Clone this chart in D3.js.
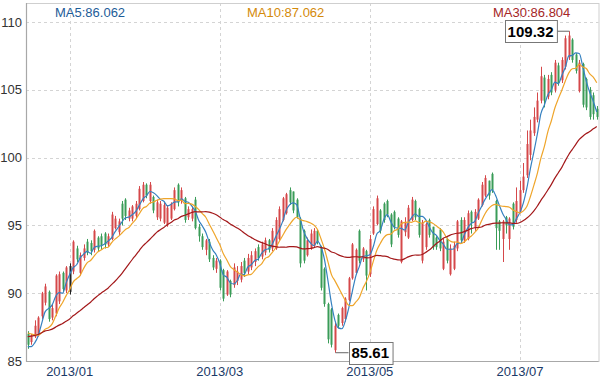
<!DOCTYPE html>
<html><head><meta charset="utf-8">
<script src="https://cdn.jsdelivr.net/npm/d3@7"></script>
<style>
body{margin:0;background:#fff}
text{font-family:"Liberation Sans",Arial,sans-serif}
</style>
</head><body>
<svg id="c" width="600" height="378"></svg>
<script>
// ---------------- data ----------------
const startDate = "2012-12-14";
const endDate = "2013-07-31";
// [open, close, low, high]
const ohlc = [
[87.0,86.2,85.9,87.2],[86.4,86.9,86.2,87.0],[86.8,87.6,86.7,88.0],[86.9,88.2,86.8,88.3],[88.3,90.0,88.1,90.1],
[89.3,90.5,89.1,90.7],[90.1,88.1,87.9,90.2],[88.2,88.9,88.0,89.2],[88.5,91.3,88.3,91.4],[89.4,91.4,89.2,91.6],
[91.5,90.3,90.1,91.6],[90.2,91.9,90.0,92.0],[90.1,92.0,89.9,92.2],[91.6,93.8,91.4,93.9],[93.3,92.5,92.3,93.5],
[91.5,92.8,91.3,93.0],[92.6,93.3,92.4,93.6],[93.8,93.0,92.8,94.0],[93.7,93.1,92.8,93.9],[93.2,94.6,93.0,94.7],
[94.1,93.3,93.1,94.2],[94.2,93.5,93.2,94.4],[94.4,93.6,93.3,94.5],[93.6,94.2,93.4,94.4],[94.0,95.8,93.9,96.0],
[94.8,95.5,94.7,95.7],[94.5,95.3,94.3,95.5],[96.6,95.5,95.0,96.8],[96.9,95.7,95.4,97.0],[95.5,96.1,95.3,96.3],
[95.5,96.4,95.3,96.5],[95.7,96.6,95.5,96.8],[96.2,97.7,96.1,97.9],[96.8,98.0,96.7,98.2],[98.0,97.2,97.0,98.1],
[96.8,98.0,96.6,98.2],[97.1,96.1,95.9,97.2],[95.6,96.7,95.4,96.9],[95.5,96.6,95.3,96.8],[95.2,96.5,95.1,96.7],
[95.0,96.3,94.9,96.5],[95.5,96.6,95.4,96.7],[96.2,97.6,96.1,97.8],[98.0,96.7,96.4,98.1],[96.8,97.6,96.6,97.8],
[97.0,95.4,95.2,97.1],[95.6,96.2,95.4,96.4],[95.5,96.2,95.3,96.4],[96.9,94.8,94.7,97.1],[94.9,94.2,93.8,95.1],
[94.2,93.4,93.2,94.4],[93.2,93.9,92.8,94.0],[93.8,92.5,92.3,94.0],[92.6,91.9,91.7,92.8],[91.8,92.4,91.5,92.6],
[92.4,90.4,90.2,92.5],[91.7,89.6,89.4,91.8],[89.9,91.6,89.8,91.7],[90.9,89.9,89.7,91.0],[90.6,91.9,90.4,92.2],
[90.9,91.6,90.6,92.0],[91.0,92.0,90.8,92.3],[92.4,91.5,91.2,92.6],[91.6,92.6,91.4,92.9],[91.9,92.8,91.7,93.1],
[92.3,93.1,92.0,93.3],[93.4,92.6,92.4,93.6],[92.7,93.6,92.5,93.8],[93.0,93.9,92.8,94.1],[93.9,93.2,93.0,94.0],
[93.3,94.6,93.1,94.8],[93.3,95.4,93.2,95.6],[94.0,96.2,93.9,96.4],[95.4,97.0,95.3,97.1],[95.9,97.3,95.8,97.4],
[97.6,96.7,96.5,97.8],[97.5,96.1,95.9,97.5],[96.9,95.6,95.5,97.0],[95.5,92.2,91.9,95.6],[94.6,92.4,92.2,94.7],
[92.8,93.9,92.7,94.1],[93.3,94.4,93.2,94.7],[93.5,94.6,93.4,94.8],[94.6,93.8,93.6,94.7],[93.4,90.4,90.2,93.5],
[91.8,89.2,89.0,91.9],[89.2,86.6,86.3,89.3],[88.8,86.2,86.0,88.9],[85.8,87.6,85.61,87.8],[88.4,87.6,87.4,88.5],
[87.8,88.9,87.6,89.0],[88.1,89.6,87.9,89.7],[89.5,91.1,89.4,91.2],[91.1,93.6,91.0,93.7],[91.5,93.2,91.4,93.3],
[94.6,92.4,92.2,94.7],[92.5,93.3,92.3,93.4],[93.1,91.3,90.2,93.2],[91.4,94.0,91.2,94.3],[94.4,96.2,94.3,96.4],
[95.1,97.0,95.0,97.2],[96.1,94.6,94.4,96.2],[96.6,95.4,95.2,96.7],[96.8,95.8,95.6,96.9],[95.8,93.6,93.4,95.9],
[96.0,94.9,94.7,96.1],[95.5,94.3,94.1,95.6],[92.3,95.3,92.2,95.4],[94.5,95.2,94.2,95.6],[94.1,96.3,94.0,96.5],
[95.4,96.9,95.3,97.1],[96.8,95.6,95.4,96.9],[96.2,94.3,94.1,96.3],[92.4,95.2,92.2,95.4],[93.4,95.1,93.2,95.2],
[95.4,94.3,94.1,95.5],[94.9,93.4,93.2,94.9],[94.1,93.4,93.2,94.2],[94.7,93.3,93.1,94.8],[91.8,93.8,91.7,94.0],
[94.0,92.4,92.2,94.1],[91.4,93.3,91.3,93.6],[91.8,93.5,91.7,93.8],[93.3,95.3,93.1,95.4],[95.4,93.9,93.7,95.6],
[93.9,95.4,93.7,95.6],[94.0,95.9,93.9,96.1],[96.0,95.2,94.4,96.1],[94.8,96.0,94.6,96.2],[95.5,96.9,95.4,97.0],
[96.5,98.0,96.4,98.2],[97.2,98.5,97.1,98.7],[98.3,97.2,96.9,98.3],[98.8,97.6,97.4,98.9],[96.8,94.8,93.2,96.9],
[95.3,94.6,93.2,95.4],[94.0,95.3,92.3,95.4],[95.6,95.0,94.4,95.7],[94.0,95.5,93.2,95.6],[96.6,94.9,94.7,96.7],
[95.4,96.8,95.2,97.8],[96.0,97.6,95.9,98.3],[97.6,98.6,97.4,99.6],[98.7,101.0,98.5,102.0],[100.2,102.0,99.8,102.8],
[101.8,103.0,101.6,103.7],[102.8,104.2,102.6,104.8],[104.2,106.0,104.0,106.7],[105.9,104.2,103.7,106.1],[104.5,105.8,104.3,106.1],
[106.1,104.8,104.6,106.3],[105.0,107.0,104.8,107.2],[106.8,105.5,105.3,107.0],[105.7,107.2,105.5,107.4],[106.7,108.8,106.5,109.0],
[107.4,109.0,107.2,109.32],[108.7,107.2,107.0,108.8],[107.6,106.4,106.2,107.7],[104.9,107.0,104.8,107.2],[106.9,103.9,103.7,107.0],
[105.8,103.7,103.5,105.9],[105.0,103.0,102.8,105.2],[104.6,103.2,102.8,104.8],[103.6,103.0,102.8,103.8]
];
// closes before the visible window (needed for the moving averages)
const priorClose = [85.9,86.1,86.3,86.0,86.4,86.7,86.5,86.8,87.0,86.6,86.9,87.1,86.8,87.0,86.7,87.0,86.9,87.1,86.8,86.9,
  87.6,88.2,88.5,88.1,87.91, 86.9,86.2,85.6,85.41];
const maPeriods = [5, 10, 30];
const maNames = ["MA5", "MA10", "MA30"];
const yTicks = [85, 90, 95, 100, 105, 110];
const monthTicks = ["2013-01", "2013-03", "2013-05", "2013-07"];
const hoverIndex = 12;

// ---------------- layout ----------------
const W = 600, H = 378;
const L = 26, R = 598.5, T = 3, B = 361;
const upColor = "#d5484a", downColor = "#3a9c58";
const maColors = ["#3580c0", "#efa52a", "#a3181a"];
const legendColors = ["#1d5c98", "#d48a0a", "#a52626"];
const legendX = [55, 247, 493];

const fmt = d3.timeFormat("%Y-%m-%d");
const dates = d3.timeDay.range(new Date(startDate + "T00:00:00"), d3.timeDay.offset(new Date(endDate + "T00:00:00"), 1))
  .filter(d => d.getDay() !== 0 && d.getDay() !== 6).map(fmt).slice(0, ohlc.length);

const svg = d3.select("#c");
const x = d3.scaleBand().domain(dates).range([L, R]).padding(0);
const cx = d => x(d) + x.bandwidth() / 2;
const y = d3.scaleLinear().domain([85, 110]).range([B, 22]);

// grid
const g = svg.append("g");
g.selectAll(".hg").data(yTicks).join("line")
  .attr("x1", L).attr("x2", R).attr("y1", d => Math.round(y(d)) + 0.5).attr("y2", d => Math.round(y(d)) + 0.5)
  .attr("stroke", "#d4d4d4").attr("stroke-dasharray", "3,3");
const tickDates = monthTicks.map(m => dates.find(d => d.startsWith(m)));
g.selectAll(".vg").data(tickDates).join("line")
  .attr("x1", d => Math.round(cx(d)) + 0.5).attr("x2", d => Math.round(cx(d)) + 0.5).attr("y1", T).attr("y2", B)
  .attr("stroke", "#d4d4d4").attr("stroke-dasharray", "3,3");

// frame
svg.append("rect").attr("x", L + 0.5).attr("y", T + 0.5).attr("width", R - L).attr("height", B - T)
  .attr("fill", "none").attr("stroke", "#cfcfcf");
svg.append("line").attr("x1", L + 0.5).attr("x2", L + 0.5).attr("y1", T).attr("y2", B + 1).attr("stroke", "#a8a8a8").attr("stroke-width", 1.2);
svg.append("line").attr("x1", L).attr("x2", R).attr("y1", B + 0.5).attr("y2", B + 0.5).attr("stroke", "#a8a8a8").attr("stroke-width", 1.2);

// axes
const yAxis = svg.append("g").attr("transform", `translate(${L},0)`)
  .call(d3.axisLeft(y).tickValues(yTicks).tickSize(0).tickPadding(4));
yAxis.select(".domain").remove();
yAxis.selectAll("text").attr("font-size", 13).attr("fill", "#333").attr("font-family", '"Liberation Sans",Arial,sans-serif');

const xAxis = svg.append("g").attr("transform", `translate(0,${B})`)
  .call(d3.axisBottom(x).tickValues(tickDates).tickSize(0).tickPadding(4)
    .tickFormat(d => d.slice(0, 7).replace("-", "/")));
xAxis.select(".domain").remove();
xAxis.selectAll("text").attr("font-size", 13).attr("fill", "#1b3a68").attr("dy", "0.85em")
  .attr("font-family", '"Liberation Sans",Arial,sans-serif');

// candles
const cg = svg.append("g");
const colorOf = (d, i) => i === hoverIndex ? "#222" : (d[1] >= d[0] ? upColor : downColor);
cg.selectAll(".wick").data(ohlc).join("line")
  .attr("x1", (d, i) => Math.round(cx(dates[i])) + 0.5).attr("x2", (d, i) => Math.round(cx(dates[i])) + 0.5)
  .attr("y1", d => y(d[3])).attr("y2", d => y(d[2]))
  .attr("stroke", colorOf).attr("stroke-width", 1);
cg.selectAll(".body").data(ohlc).join("rect")
  .attr("x", (d, i) => Math.round(cx(dates[i])) - 0.5).attr("width", 2)
  .attr("y", d => y(Math.max(d[0], d[1])))
  .attr("height", d => Math.max(1, Math.abs(y(d[0]) - y(d[1]))))
  .attr("fill", colorOf);

// moving averages
const closes = ohlc.map(d => d[1]);
const allClose = priorClose.concat(closes);
const P = priorClose.length;
const mas = maPeriods.map(n => closes.map((c, i) => d3.mean(allClose.slice(P + i - n + 1, P + i + 1))));
const line = d3.line().x((d, i) => cx(dates[i])).y(d => y(d)).curve(d3.curveMonotoneX);
mas.forEach((m, k) => {
  svg.append("path").attr("d", line(m)).attr("fill", "none").attr("stroke", maColors[k]).attr("stroke-width", 1.2);
});

// legend
maNames.forEach((n, k) => {
  svg.append("text").attr("x", legendX[k]).attr("y", 17).attr("font-size", 13).attr("fill", legendColors[k])
    .text(n + ":" + mas[k][0].toFixed(3));
});

// max/min markers
const iMax = d3.maxIndex(ohlc, d => d[3]);
const iMin = d3.minIndex(ohlc, d => d[2]);
function marker(i, val, side) {
  const px = Math.round(cx(dates[i])) + 0.5, py = y(val);
  const label = val.toFixed(2);
  const grp = svg.append("g");
  const t = grp.append("text").attr("font-size", 15).attr("font-weight", "bold").attr("fill", "#000")
    .attr("text-anchor", "middle").text(label);
  const w = t.node().getComputedTextLength() + 6, h = 22, gap = 13;
  const bx = side < 0 ? px - gap - w : px + gap;
  grp.insert("line", "text").attr("x1", px).attr("x2", side < 0 ? bx + w : bx).attr("y1", py).attr("y2", py)
    .attr("stroke", "#666").attr("stroke-width", 1);
  grp.insert("rect", "text").attr("x", Math.round(bx) + 0.5).attr("y", Math.round(py - h / 2) + 0.5)
    .attr("width", w).attr("height", h).attr("fill", "#fff").attr("stroke", "#777");
  t.attr("x", bx + w / 2).attr("y", py + 5.5);
}
marker(iMax, ohlc[iMax][3], -1);
marker(iMin, ohlc[iMin][2], 1);
</script>
</body></html>
